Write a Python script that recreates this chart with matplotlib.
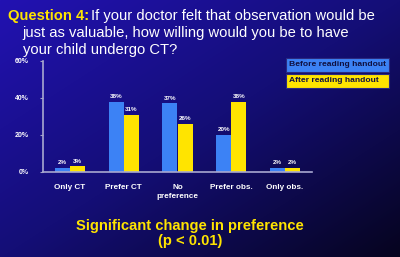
import matplotlib
matplotlib.use("Agg")
import matplotlib.pyplot as plt
import numpy as np

categories = ["Only CT", "Prefer CT", "No\npreference", "Prefer obs.", "Only obs."]
before = [2, 38, 37, 20, 2]
after = [3, 31, 26, 38, 2]
yticks = [0, 20, 40, 60]

plt.rcParams['font.family'] = ['Liberation Sans', 'DejaVu Sans']

fig = plt.figure(figsize=(4.0, 2.57), dpi=100)

# gradient background, bright at top-left, near black at bottom-right
bg = fig.add_axes([0, 0, 1, 1], zorder=-10)
h, w = 257, 400
yy, xx = np.mgrid[0:h, 0:w]
t = (xx / w + yy / h) / 2.0
c0 = np.array([34, 18, 178]) / 255
c1 = np.array([20, 14, 118]) / 255
c2 = np.array([6, 4, 30]) / 255
t1 = np.clip(t / 0.5, 0, 1)[..., None]
t2 = np.clip((t - 0.5) / 0.5, 0, 1)[..., None]
img = np.where(t[..., None] < 0.5, c0 + (c1 - c0) * t1, c1 + (c2 - c1) * t2)
bg.imshow(img, aspect='auto', extent=[0, 1, 0, 1])
bg.axis('off')

ax = fig.add_axes([0.1075, 0.331, 0.6725, 0.432])
ax.set_facecolor('none')
x = np.arange(len(categories))
bw = 0.28
b1 = ax.bar(x - bw / 2, before, bw, color='#3c82f5')
b2 = ax.bar(x + bw / 2, after, bw, color='#ffe400')

for bars, vals in ((b1, before), (b2, after)):
    for r, v in zip(bars, vals):
        ax.text(r.get_x() + r.get_width() / 2, v + 1.5, f"{v}%", ha='center',
                va='bottom', color='white', fontsize=4.5, fontweight='bold')

ax.set_xlim(-0.5, 4.5)
ax.set_ylim(0, 60)
ax.set_yticks(yticks)
ax.set_yticklabels([f"{v}%" for v in yticks], color='white', fontsize=5, fontweight='bold')
ax.set_xticks(x)
ax.set_xticklabels(categories, color='white', fontsize=5.9, fontweight='bold', linespacing=1.25)
ax.tick_params(axis='x', length=0, pad=9)
ax.tick_params(axis='y', length=2, color='#a0a0c8', pad=8)
for s in ('top', 'right'):
    ax.spines[s].set_visible(False)
for s in ('left', 'bottom'):
    ax.spines[s].set_color('#a8a8d0')
    ax.spines[s].set_linewidth(1.2)

# legend boxes
fig.text(0.7225, 0.7485, "Before reading handout", color='#101040', fontsize=6.1,
         fontweight='bold', va='center', ha='left',
         bbox=dict(boxstyle='square,pad=0.4', fc='#3c82f5', ec='#2a2a80', lw=0.8))
fig.text(0.7225, 0.6855, "After reading handout   ", color='#101040', fontsize=6.1,
         fontweight='bold', va='center', ha='left',
         bbox=dict(boxstyle='square,pad=0.4', fc='#ffe400', ec='#2a2a80', lw=0.8))

# title
fs = 10.6
fig.text(0.02, 0.938, "Question 4:", color='#ffe400', fontsize=fs, fontweight='bold',
         va='center', ha='left')
fig.text(0.228, 0.938, "If your doctor felt that observation would be", color='white',
         fontsize=fs, va='center', ha='left')
fig.text(0.057, 0.871, "just as valuable, how willing would you be to have", color='white',
         fontsize=fs, va='center', ha='left')
fig.text(0.057, 0.804, "your child undergo CT?", color='white',
         fontsize=fs, va='center', ha='left')

fig.text(0.475, 0.092, "Significant change in preference\n(p < 0.01)", color='#ffe400',
         fontsize=10.6, fontweight='bold', va='center', ha='center', linespacing=1.15)

fig.savefig("out.png", dpi=100)
